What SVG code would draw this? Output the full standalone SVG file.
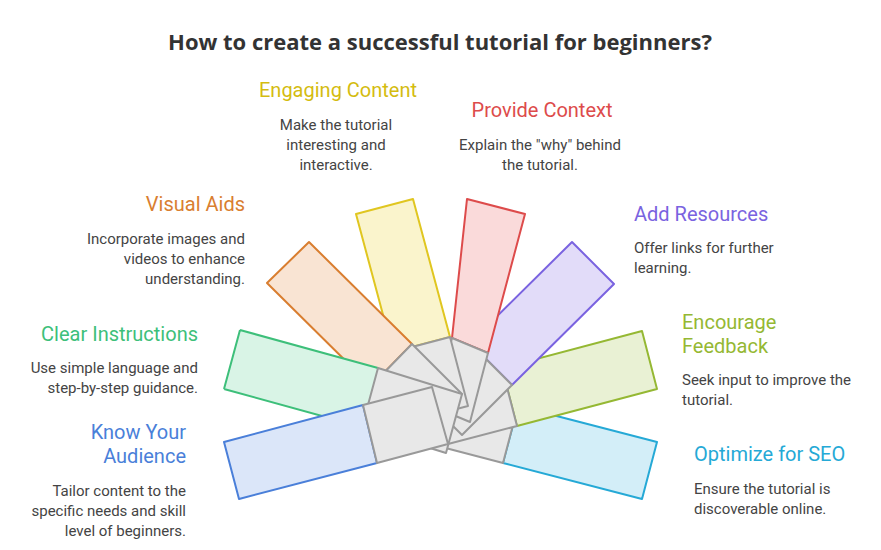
<svg xmlns="http://www.w3.org/2000/svg" width="881" height="550" viewBox="0 0 881 550">
<style>
text{font-family:Roboto,"Liberation Sans",sans-serif}
.t{font-family:"Open Sans","Liberation Sans",sans-serif;font-size:22px;font-weight:bold;fill:#333}
.h{font-size:20px}
.b{font-size:15px;fill:#444}
.g{fill:#e8e8e8;stroke:#999;stroke-width:2;stroke-linejoin:round}
.c{stroke-width:2;stroke-linejoin:round}
.m{text-anchor:middle}.e{text-anchor:end}
</style>
<rect width="881" height="550" fill="#fff"/>
<text class="t m" x="440" y="50">How to create a successful tutorial for beginners?</text>
<g id="bars">
<g id="seo"><polygon class="c" fill="#d3eef8" stroke="#25a9d6" points="657,442 642,499 503,463 518,406"/><polygon class="g" points="518,406 503,463 434,445 449,388"/></g>
<g id="feedback"><polygon class="c" fill="#e9f1d4" stroke="#95b833" points="642,331 657,389 517,426 502,368"/><polygon class="g" points="502,368 517,426 448,444 433,386"/></g>
<g id="resources"><polygon class="c" fill="#e2dcf9" stroke="#7a63e0" points="572,242 614,284 512,385 470,343"/><polygon class="g" points="470,343 512,385 462,435 420,393"/></g>
<g id="context"><polygon class="c" fill="#fadada" stroke="#dd4b4b" points="467,199 525,214 488,353 452,338"/><polygon class="g" points="452,338 488,353 470,422 434,407"/></g>
<g id="engaging"><polygon class="c" fill="#faf4cc" stroke="#e0c620" points="356,214 413,199 450,337 393,352"/><polygon class="g" points="393,352 450,337 468,406 411,421"/></g>
<g id="visual"><polygon class="c" fill="#f9e4d3" stroke="#d97e30" points="309,242 412,344 371,386 267,283"/><polygon class="g" points="371,386 412,344 462,394 421,436"/></g>
<g id="clear"><polygon class="c" fill="#d9f4e6" stroke="none" points="240,330 378,368 362,427 224,389"/><path d="M224,389 L362,427 M240,330 L224,389 M240,330 L378,368" fill="none" stroke="#3dbf7a" stroke-width="2"/><polygon class="g" points="378,368 462,394 446,453 362,427"/></g>
<g id="audience"><polygon class="c" fill="#dbe6f9" stroke="#4a7fd9" points="224,442 363,405 377,463 239,499"/><polygon class="g" points="363,405 432,387 448,444 377,463"/></g>
</g>
<g id="labels">
<text class="h m" x="338" y="97" fill="#d4bc10">Engaging Content</text>
<text class="b m" x="336" y="130">Make the tutorial</text>
<text class="b m" x="336" y="150">interesting and</text>
<text class="b m" x="336" y="170">interactive.</text>
<text class="h m" x="542" y="117" fill="#dd4b4b">Provide Context</text>
<text class="b m" x="540" y="150">Explain the "why" behind</text>
<text class="b m" x="540" y="170">the tutorial.</text>
<text class="h e" x="245" y="211" fill="#d97e30">Visual Aids</text>
<text class="b e" x="245" y="244">Incorporate images and</text>
<text class="b e" x="245" y="264">videos to enhance</text>
<text class="b e" x="245" y="284">understanding.</text>
<text class="h" x="634" y="221" fill="#7a63e0">Add Resources</text>
<text class="b" x="634" y="253">Offer links for further</text>
<text class="b" x="634" y="273">learning.</text>
<text class="h e" x="198" y="341" fill="#3dbf7a">Clear Instructions</text>
<text class="b e" x="198" y="373">Use simple language and</text>
<text class="b e" x="198" y="393">step-by-step guidance.</text>
<text class="h" x="682" y="329" fill="#95b833">Encourage</text>
<text class="h" x="682" y="353" fill="#95b833">Feedback</text>
<text class="b" x="682" y="385">Seek input to improve the</text>
<text class="b" x="682" y="405">tutorial.</text>
<text class="h e" x="186" y="439" fill="#4a7fd9">Know Your</text>
<text class="h e" x="186" y="463" fill="#4a7fd9">Audience</text>
<text class="b e" x="186" y="496">Tailor content to the</text>
<text class="b e" x="186" y="516">specific needs and skill</text>
<text class="b e" x="186" y="536">level of beginners.</text>
<text class="h" x="694" y="461" fill="#25a9d6">Optimize for SEO</text>
<text class="b" x="694" y="494">Ensure the tutorial is</text>
<text class="b" x="694" y="514">discoverable online.</text>
</g>
</svg>
